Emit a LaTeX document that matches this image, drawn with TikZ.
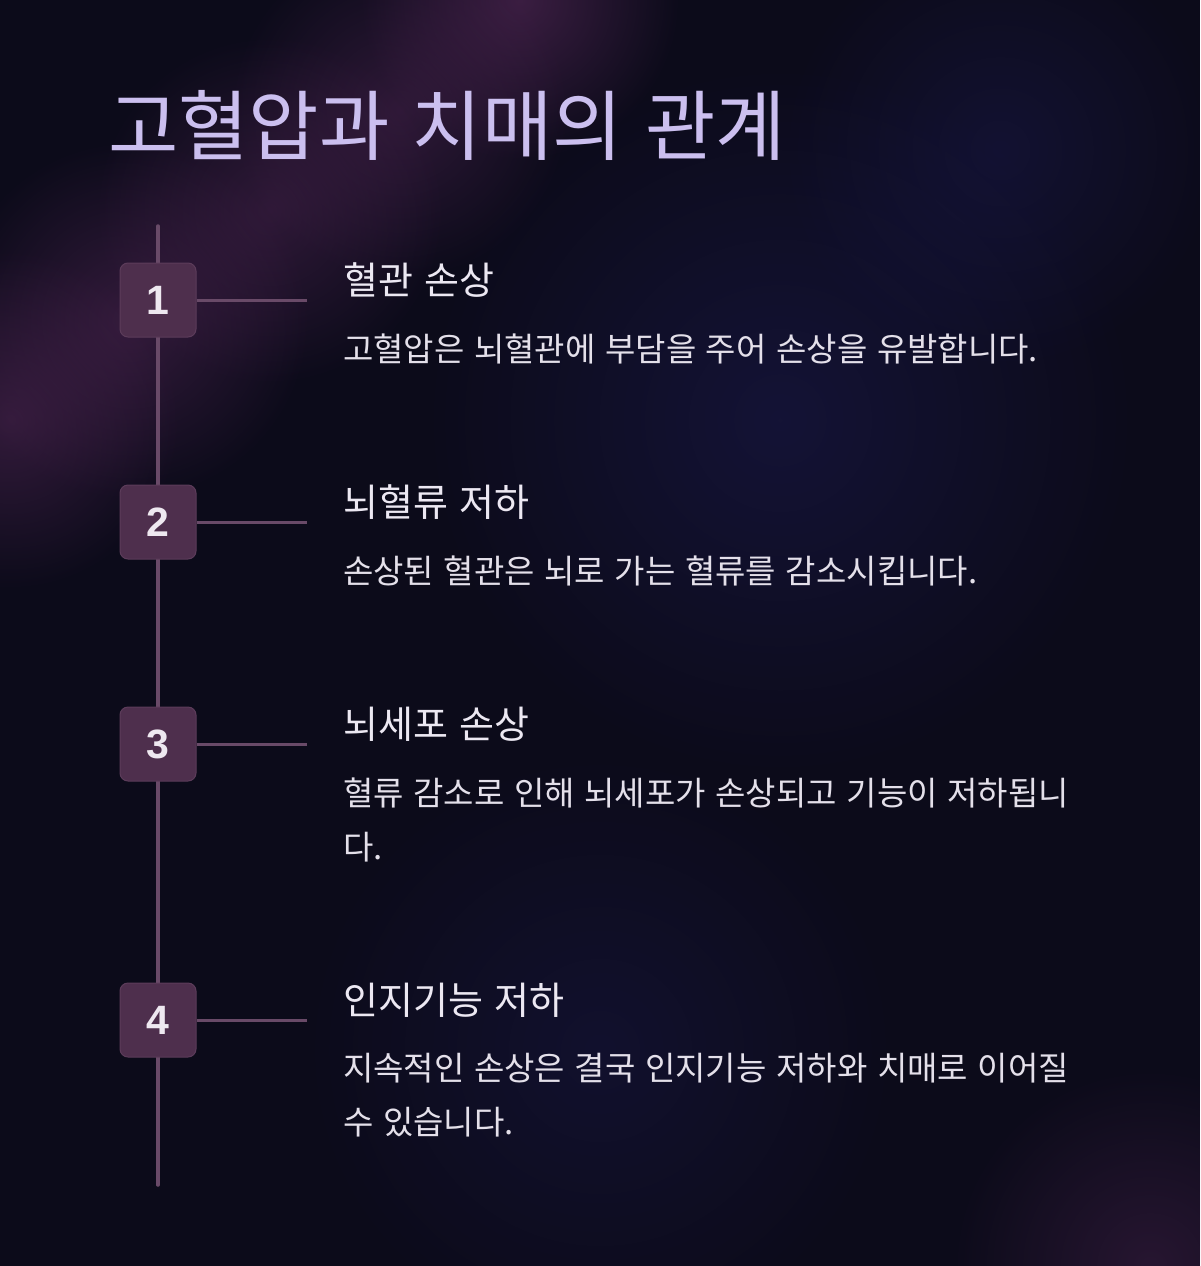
\documentclass[tikz,border=0pt]{standalone}
\usepackage{fontspec}
\setmainfont{Noto Sans}
\newfontfamily\kr{Noto Sans CJK KR}[WordSpace=1.3]
\newfontfamily\numf{Liberation Sans}
\usetikzlibrary{fadings}
\tikzfading[name=softglow, inner color=transparent!0, outer color=transparent!100]
\definecolor{bgbase}{HTML}{0C0B1A}
\definecolor{glowpurple}{HTML}{5A2A5C}
\definecolor{glowblue}{HTML}{23226A}
\definecolor{titlecol}{HTML}{CBBFEF}
\definecolor{headcol}{HTML}{ECE8F2}
\definecolor{bodycol}{HTML}{E4E0EA}
\definecolor{linecol}{HTML}{694A68}
\definecolor{boxfill}{HTML}{4E2F4D}
\definecolor{boxdraw}{HTML}{5C3C5A}
\definecolor{numcol}{HTML}{EEE8F0}
\tikzset{
  glow/.style={path fading=softglow},
  numbox/.style={rectangle, rounded corners=8pt, fill=boxfill, draw=boxdraw, line width=1pt,
    minimum width=76pt, minimum height=74pt, inner sep=0pt, text=numcol,
    font=\numf\bfseries\fontsize{41}{41}\selectfont},
  tl/.style={draw=linecol, line width=3.5pt},
  hl/.style={draw=linecol, line width=3pt},
  heading/.style={anchor=west, inner sep=0pt, text=headcol, font=\kr\fontsize{38}{38}\selectfont},
  body/.style={anchor=west, inner sep=0pt, text=bodycol, font=\kr\fontsize{33}{33}\selectfont},
  titlest/.style={anchor=west, inner sep=0pt, text=titlecol, font=\kr\fontsize{76.5}{76.5}\selectfont}
}
\begin{document}
\begin{tikzpicture}[x=1pt,y=-1pt]
\useasboundingbox (0,0) rectangle (1200,1266);
\fill[bgbase] (0,0) rectangle (1200,1266);
% background glows
\begin{scope}
\clip (0,0) rectangle (1200,1266);
\fill[glowpurple, opacity=0.6, glow] (520,0) circle (160);
\fill[glowpurple, opacity=0.45, glow] (400,110) circle (170);
\fill[glowpurple, opacity=0.45, glow] (270,210) circle (175);
\fill[glowpurple, opacity=0.5, glow] (130,320) circle (180);
\fill[glowpurple, opacity=0.5, glow] (10,420) circle (170);
\fill[glowblue, opacity=0.35, glow] (780,420) circle (360);
\fill[glowblue, opacity=0.25, glow] (600,1050) circle (300);
\fill[glowblue, opacity=0.30, glow] (1000,150) circle (220);
\fill[glowpurple, opacity=0.35, glow] (1150,1266) circle (200);
\end{scope}

\node[titlest] (title) at (108,125) {고혈압과 치매의 관계};

\coordinate (top) at (158,226);
\coordinate (bot) at (158,1185);
\draw[tl, line cap=round] (top) -- (bot);

\node[numbox] (n1) at (158,300) {1};
\node[numbox] (n2) at (158,522) {2};
\node[numbox] (n3) at (158,744) {3};
\node[numbox] (n4) at (158,1020) {4};

\coordinate (e1) at (307,300);
\coordinate (e2) at (307,522);
\coordinate (e3) at (307,744);
\coordinate (e4) at (307,1020);
\draw[hl] (n1.east) -- (e1);
\draw[hl] (n2.east) -- (e2);
\draw[hl] (n3.east) -- (e3);
\draw[hl] (n4.east) -- (e4);

\node[heading] (h1) at (343,280) {혈관 손상};
\node[body] (b1) at (343,349) {고혈압은 뇌혈관에 부담을 주어 손상을 유발합니다.};

\node[heading] (h2) at (343,502) {뇌혈류 저하};
\node[body] (b2) at (343,571) {손상된 혈관은 뇌로 가는 혈류를 감소시킵니다.};

\node[heading] (h3) at (343,724) {뇌세포 손상};
\node[body] (b3a) at (343,793) {혈류 감소로 인해 뇌세포가 손상되고 기능이 저하됩니};
\node[body] (b3b) at (343,847) {다.};

\node[heading] (h4) at (343,1000) {인지기능 저하};
\node[body] (b4a) at (343,1068) {지속적인 손상은 결국 인지기능 저하와 치매로 이어질};
\node[body] (b4b) at (343,1122) {수 있습니다.};
\end{tikzpicture}
\end{document}
